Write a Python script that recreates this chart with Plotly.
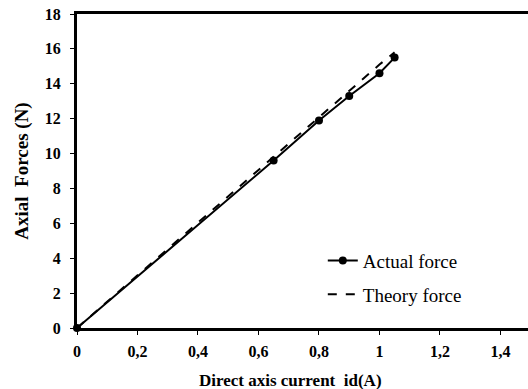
import plotly.graph_objects as go

current_actual = [0, 0.65, 0.80, 0.90, 1.00, 1.05]
force_actual = [0, 9.6, 11.9, 13.3, 14.6, 15.5]
current_theory = [0, 0.65, 0.80, 0.90, 1.00, 1.05]
force_theory = [0, 9.8, 12.1, 13.6, 15.1, 15.8]
x_ticks = [0, 0.2, 0.4, 0.6, 0.8, 1.0, 1.2, 1.4]
x_ticktext = ["0", "0,2", "0,4", "0,6", "0,8", "1", "1,2", "1,4"]
y_ticks = [0, 2, 4, 6, 8, 10, 12, 14, 16, 18]

fig = go.Figure()
fig.add_trace(go.Scatter(
    x=current_actual, y=force_actual, name="Actual force", legendgroup="a",
    mode="lines+markers", line=dict(color="black", width=2),
    marker=dict(color="black", size=8), cliponaxis=False))
fig.add_trace(go.Scatter(
    x=current_theory, y=force_theory, name="Theory force", legendgroup="b",
    mode="lines", line=dict(color="black", width=2, dash="dash"),
    cliponaxis=False))

fig.update_layout(
    width=528, height=389,
    margin=dict(l=77, r=0, t=14, b=61),
    paper_bgcolor="white", plot_bgcolor="white",
    font=dict(family="Liberation Serif", size=16, color="black"),
    showlegend=True,
    legend=dict(x=0.545, y=0.275, xanchor="left", yanchor="top",
                font=dict(family="Liberation Serif", size=19, color="black"),
                bgcolor="rgba(0,0,0,0)", tracegroupgap=6),
    annotations=[dict(text="<b>Direct axis current  id(A)</b>", xref="paper", yref="paper",
                      x=(290 - 77) / 451, y=0, yshift=-52, xanchor="center",
                      yanchor="middle", showarrow=False,
                      font=dict(family="Liberation Serif", size=17, color="black"))],
)
fig.update_xaxes(range=[0, 1.491], tickmode="array",
                 tickvals=x_ticks, ticktext=["<b>" + t + "</b>" for t in x_ticktext],
                 showgrid=False, zeroline=False, showline=True, linewidth=3,
                 linecolor="black", mirror=True, ticks="outside", ticklen=4,
                 ticklabelstandoff=3, tickcolor="black",
                 tickfont=dict(family="Liberation Serif", size=16, color="black"))
fig.update_yaxes(range=[0, 18], tickmode="array", tickvals=y_ticks,
                 ticktext=["<b>%d</b>" % v for v in y_ticks],
                 showgrid=False, zeroline=False,
                 showline=True, linewidth=3, linecolor="black", mirror=False,
                 ticks="outside", ticklen=4, tickcolor="black",
                 ticklabelstandoff=6,
                 tickfont=dict(family="Liberation Serif", size=16, color="black"),
                 title=dict(text="<b>Axial  Forces (N)</b>",
                            font=dict(family="Liberation Serif", size=19, color="black"),
                            standoff=12))
fig.write_html("out.html")
